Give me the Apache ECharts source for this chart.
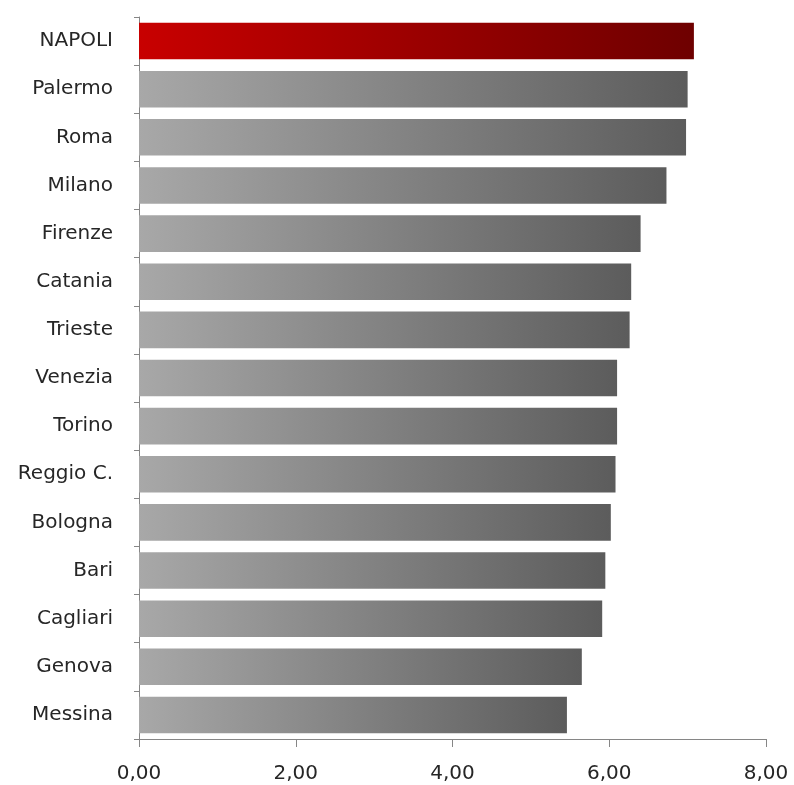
<!DOCTYPE html>
<html><head><meta charset="utf-8">
<script src="https://cdn.jsdelivr.net/npm/echarts@6/dist/echarts.min.js"></script>
<style>html,body{margin:0;padding:0;background:#fff}#c{width:794px;height:785px}</style>
</head><body><div id="c"></div>
<script>
const categories = ["NAPOLI","Palermo","Roma","Milano","Firenze","Catania","Trieste","Venezia","Torino","Reggio C.","Bologna","Bari","Cagliari","Genova","Messina"];
const values = [7.08,7.00,6.98,6.73,6.40,6.28,6.26,6.10,6.10,6.08,6.02,5.95,5.91,5.65,5.46];
const xTicks = [0,2,4,6,8];
const highlight = "NAPOLI";

const grayGrad = {type:'linear',x:0,y:0,x2:1,y2:0,colorStops:[{offset:0,color:'#a8a8a8'},{offset:1,color:'#5c5c5c'}]};
const redGrad = {type:'linear',x:0,y:0,x2:1,y2:0,colorStops:[{offset:0,color:'#c80000'},{offset:1,color:'#6e0000'}]};

const chart = echarts.init(document.getElementById('c'));
chart.setOption({
  animation:false,
  grid:{left:139,right:28,top:17,bottom:46,containLabel:false},
  xAxis:{type:'value',min:xTicks[0],max:xTicks[xTicks.length-1],interval:2,
    axisLine:{show:true,lineStyle:{color:'#868686',width:1}},
    axisTick:{show:true,length:8,lineStyle:{color:'#868686'}},
    splitLine:{show:false},
    axisLabel:{margin:25,fontFamily:'DejaVu Sans',fontSize:20,color:'#262626',
      formatter:v=>v.toFixed(2).replace('.',',')}},
  yAxis:{type:'category',data:categories,inverse:true,
    axisLine:{show:true,lineStyle:{color:'#868686',width:1}},
    axisTick:{show:true,length:5,lineStyle:{color:'#868686'}},
    axisLabel:{margin:26,fontFamily:'DejaVu Sans',fontSize:20,color:'#262626'}},
  series:[{type:'bar',barCategoryGap:'24%',
    data:values.map((v,i)=>({value:v,itemStyle:{color:categories[i]===highlight?redGrad:grayGrad}}))}]
});
</script></body></html>
